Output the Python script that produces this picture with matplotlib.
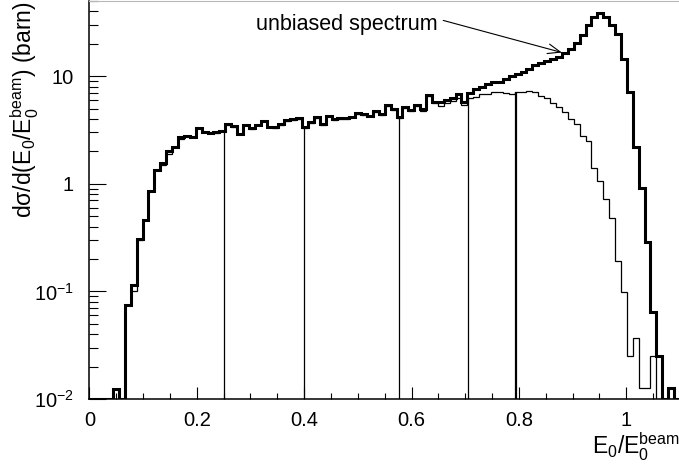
import numpy as np
import matplotlib
matplotlib.use('Agg')
import matplotlib.pyplot as plt
from matplotlib.ticker import FixedLocator, MultipleLocator, LogLocator, NullFormatter

plt.rcParams['font.family'] = ['Liberation Sans', 'DejaVu Sans']
plt.rcParams['mathtext.fontset'] = 'custom'
plt.rcParams['mathtext.rm'] = 'Liberation Sans'
plt.rcParams['mathtext.it'] = 'Liberation Sans:italic'
plt.rcParams['mathtext.bf'] = 'Liberation Sans:bold'

# 100 bins of E0/E0beam between 0 and 1.1
x_lo, x_hi, n_bins = 0.0, 1.1, 100

# unbiased spectrum (thick), barn per unit
unbiased = [
    0, 0, 0, 0, 0.0125, 0, 0.075, 0.115, 0.306, 0.46,
    0.86, 1.35, 1.56, 2.0, 2.19, 2.72, 2.8, 2.7, 3.3, 3.05,
    2.97, 3.0, 3.12, 3.6, 3.45, 2.9, 3.55, 3.3, 3.55, 3.85,
    3.4, 3.35, 3.6, 3.9, 4.0, 4.05, 3.35, 3.75, 4.17, 3.6,
    4.3, 4.0, 4.05, 4.05, 4.2, 4.55, 4.45, 4.3, 4.7, 4.45,
    5.4, 5.0, 4.17, 5.2, 4.9, 5.4, 5.0, 6.7, 5.8, 5.7,
    6.0, 6.3, 6.8, 5.8, 7.0, 7.6, 8.0, 8.4, 8.8, 8.9,
    9.4, 10.0, 10.4, 10.9, 11.6, 12.6, 13.2, 13.7, 14.4, 15.0,
    16.3, 17.9, 20.2, 24.3, 30.0, 35.5, 38.3, 35.8, 29.6, 24.8,
    14.4, 7.1, 2.22, 0.92, 0.29, 0.064, 0.025, 0, 0.0126, 0,
]

# biased spectrum (thin)
biased = [
    0, 0, 0, 0, 0.0125, 0, 0.075, 0.10, 0.30, 0.46,
    0.86, 1.35, 1.5, 1.89, 2.19, 2.6, 2.8, 2.7, 3.3, 3.05,
    2.95, 2.97, 3.1, 3.55, 3.4, 2.88, 3.5, 3.25, 3.5, 3.8,
    3.35, 3.3, 3.55, 3.85, 3.95, 4.0, 3.3, 3.7, 4.1, 3.55,
    4.25, 3.95, 4.0, 4.0, 4.15, 4.5, 4.4, 4.25, 4.6, 4.4,
    5.3, 4.9, 4.1, 5.1, 4.7, 5.25, 4.75, 6.5, 5.6, 5.3,
    5.6, 5.9, 6.3, 5.4, 6.3, 6.4, 6.9, 6.9, 7.2, 7.1,
    7.0, 6.9, 7.2, 7.1, 7.3, 7.2, 6.5, 6.25, 5.6, 5.2,
    4.6, 4.0, 3.6, 2.78, 2.5, 1.4, 1.07, 0.73, 0.48, 0.19,
    0.098, 0.025, 0.037, 0.0126, 0.0126, 0.025, 0, 0, 0, 0,
]

# boundaries of the energy slices
cuts = [0.25, 0.40, 0.576, 0.706, 0.794]
cut_widths = [0.9, 0.9, 0.9, 0.9, 1.6]

y_lo, y_hi = 0.01, 50.0

edges = np.linspace(x_lo, x_hi, n_bins + 1)
unbiased = np.array(unbiased)
biased = np.array(biased)

fig = plt.figure(figsize=(6.79, 4.66), dpi=100)
ax = fig.add_axes([89.4 / 679, 67 / 466, 590.6 / 679, 398 / 466])
ax.set_yscale('log')

# empty bins sit on the frame like in ROOT
ax.stairs(np.clip(biased, y_lo, None), edges, baseline=None, color='black', lw=0.9)
ax.stairs(np.clip(unbiased, y_lo, None), edges, baseline=None, color='black', lw=2.2)

idx = np.searchsorted(edges, cuts) - 1
ax.vlines(cuts, y_lo, biased[idx], colors='black', lw=cut_widths)

# annotation
label_pos = (0.648, 30.4)
arrow_tail = (0.659, 33.0)
arrow_tip = (0.880, 16.6)
ax.text(*label_pos, 'unbiased spectrum', ha='right', va='center', fontsize=15.5)
ax.annotate('', xy=arrow_tip, xytext=arrow_tail,
            arrowprops=dict(arrowstyle='->,head_length=0.9,head_width=0.35', lw=0.8, color='black',
                            shrinkA=0, shrinkB=0))

ax.set_xlim(x_lo, x_hi)
ax.set_ylim(y_lo, y_hi)

ax.xaxis.set_major_locator(FixedLocator([0, 0.2, 0.4, 0.6, 0.8, 1.0]))
ax.set_xticklabels(['0', '0.2', '0.4', '0.6', '0.8', '1'])
ax.xaxis.set_minor_locator(MultipleLocator(0.05))
ax.yaxis.set_major_locator(FixedLocator([0.01, 0.1, 1, 10]))
ax.set_yticklabels([r'$10^{-2}$', r'$10^{-1}$', '1', '10'])
ax.yaxis.set_minor_locator(LogLocator(base=10, subs=np.arange(2, 10)))
ax.yaxis.set_minor_formatter(NullFormatter())

ax.tick_params(axis='both', which='both', direction='in', labelsize=14.5, width=0.8,
               top=False, right=False)
ax.tick_params(axis='x', which='major', length=9, pad=9)
ax.tick_params(axis='x', which='minor', length=4.3)
ax.tick_params(axis='y', which='major', length=12.3, pad=11)
ax.tick_params(axis='y', which='minor', length=6.5)

for side in ['left', 'bottom']:
    ax.spines[side].set_linewidth(1.1)
ax.spines['top'].set_color('#b8b8b8')
ax.spines['top'].set_linewidth(0.8)
ax.spines['right'].set_visible(False)

ax.set_xlabel(r'E$_0$/E$_0^{\mathrm{beam}}$', loc='right', fontsize=16.5, labelpad=0)
ax.set_ylabel(r'dσ/d(E$_0$/E$_0^{\mathrm{beam}}$) (barn)', loc='top', fontsize=16.5)
ax.yaxis.set_label_coords(-0.082, 1.0)

fig.savefig('out.png', dpi=100)
